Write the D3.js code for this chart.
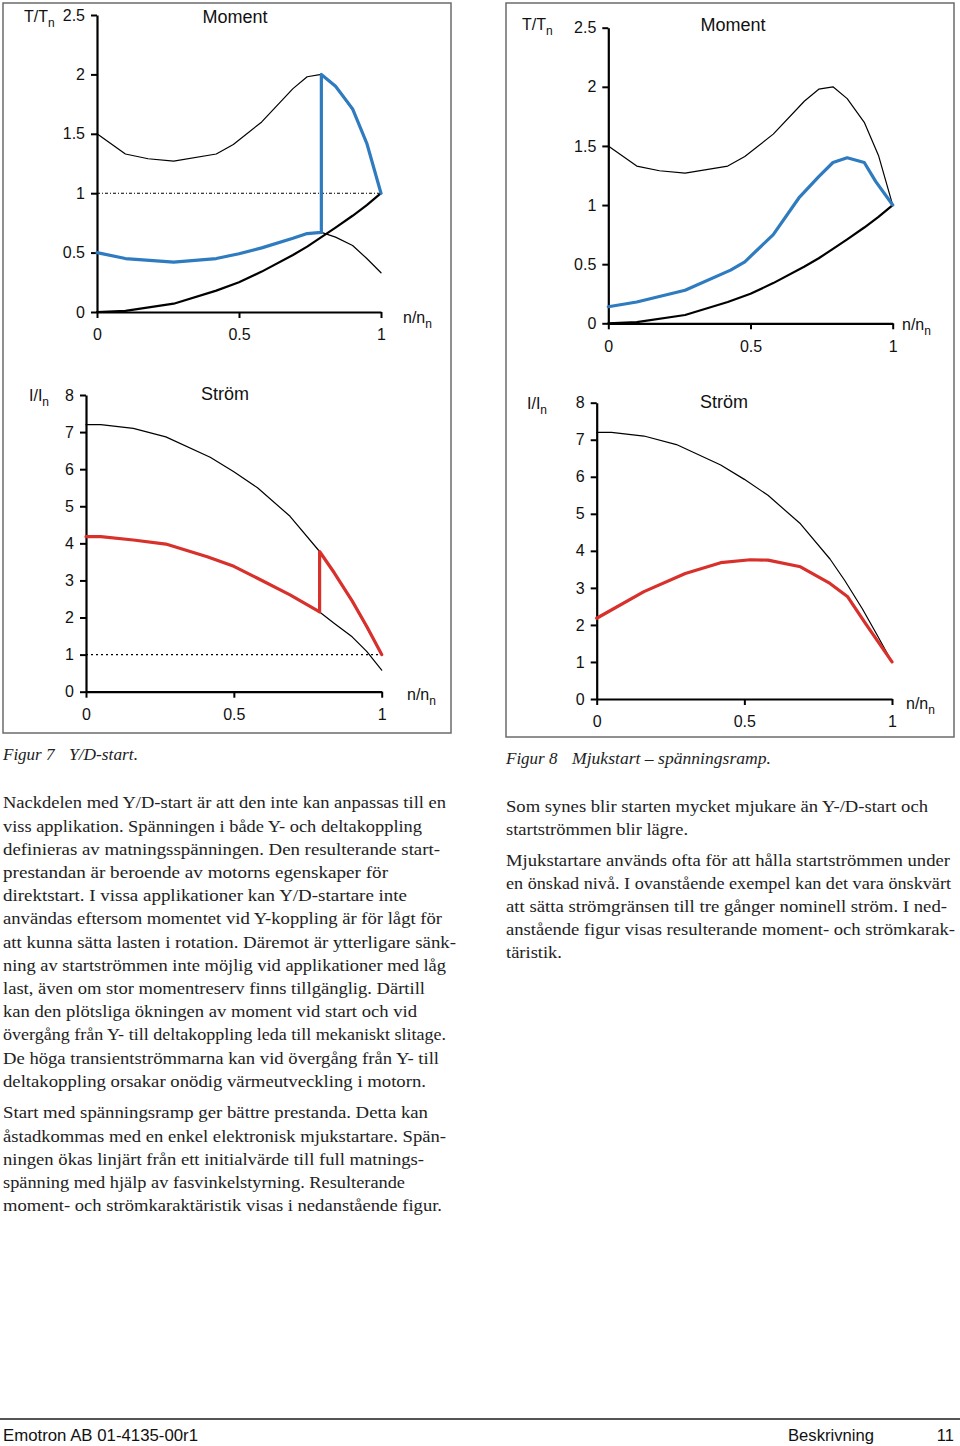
<!DOCTYPE html>
<html><head><meta charset="utf-8">
<script src="https://cdn.jsdelivr.net/npm/d3@7/dist/d3.min.js"></script>
<style>body{margin:0;background:#fff}svg{display:block}</style>
</head><body>
<script>
// ---------- data ----------
const xTicks = [0, 0.5, 1];
const torqueTicks = [0, 0.5, 1, 1.5, 2, 2.5];
const currentTicks = [0, 1, 2, 3, 4, 5, 6, 7, 8];
const nominalLevel = 1;

// torque (T/Tn) vs speed (n/nn)
const dolTorqueSpeed = [0, 0.1, 0.18, 0.27, 0.42, 0.48, 0.58, 0.69, 0.74, 0.79, 0.84, 0.9, 0.95, 1];
const dolTorque      = [1.5, 1.33, 1.29, 1.27, 1.33, 1.41, 1.6, 1.88, 1.98, 2.0, 1.9, 1.7, 1.42, 1.0];
const loadSpeed  = [0, 0.1, 0.27, 0.42, 0.5, 0.58, 0.69, 0.74, 0.79, 0.84, 0.9, 0.95, 1];
const loadTorque = [0, 0.01, 0.07, 0.18, 0.25, 0.34, 0.48, 0.55, 0.63, 0.71, 0.81, 0.9, 1.0];
const ydTorqueSpeed = [0, 0.1, 0.27, 0.42, 0.5, 0.58, 0.69, 0.74, 0.79, 0.79, 0.84, 0.9, 0.95, 1];
const ydTorque      = [0.5, 0.45, 0.42, 0.45, 0.49, 0.54, 0.62, 0.66, 0.67, 2.0, 1.9, 1.71, 1.42, 1.0];
const yTorqueTailSpeed = [0.79, 0.84, 0.9, 0.95, 1];
const yTorqueTail      = [0.67, 0.63, 0.56, 0.45, 0.33];
const softTorqueSpeed = [0, 0.1, 0.27, 0.43, 0.48, 0.58, 0.67, 0.74, 0.79, 0.84, 0.9, 0.94, 1];
const softTorque      = [0.14, 0.18, 0.28, 0.45, 0.52, 0.75, 1.06, 1.24, 1.36, 1.40, 1.36, 1.20, 1.0];

// current (I/In) vs speed (n/nn)
const dolCurrentSpeed = [0, 0.05, 0.16, 0.27, 0.42, 0.5, 0.58, 0.69, 0.79, 0.84, 0.9, 0.95, 1];
const dolCurrent      = [7.2, 7.2, 7.1, 6.87, 6.32, 5.93, 5.5, 4.73, 3.78, 3.2, 2.43, 1.72, 1.0];
const ydCurrentSpeed = [0, 0.05, 0.16, 0.27, 0.41, 0.5, 0.58, 0.69, 0.79, 0.79, 0.84, 0.9, 0.95, 1];
const ydCurrent      = [4.18, 4.18, 4.09, 3.98, 3.64, 3.38, 3.06, 2.61, 2.15, 3.78, 3.2, 2.45, 1.75, 1.0];
const yCurrentTailSpeed = [0.79, 0.84, 0.9, 0.95, 1];
const yCurrentTail      = [2.15, 1.84, 1.48, 1.08, 0.58];
const softCurrentSpeed = [0, 0.16, 0.3, 0.42, 0.52, 0.58, 0.69, 0.79, 0.85, 0.91, 1];
const softCurrent      = [2.18, 2.9, 3.39, 3.68, 3.76, 3.75, 3.57, 3.12, 2.76, 2.04, 1.0];

// texts
const caption7 = ["Figur 7", "Y/D-start."];
const caption8 = ["Figur 8", "Mjukstart – spänningsramp."];
const leftPara1 = [
  "Nackdelen med Y/D-start är att den inte kan anpassas till en",
  "viss applikation. Spänningen i både Y- och deltakoppling",
  "definieras av matningsspänningen. Den resulterande start-",
  "prestandan är beroende av motorns egenskaper för",
  "direktstart. I vissa applikationer kan Y/D-startare inte",
  "användas eftersom momentet vid Y-koppling är för lågt för",
  "att kunna sätta lasten i rotation. Däremot är ytterligare sänk-",
  "ning av startströmmen inte möjlig vid applikationer med låg",
  "last, även om stor momentreserv finns tillgänglig. Därtill",
  "kan den plötsliga ökningen av moment vid start och vid",
  "övergång från Y- till deltakoppling leda till mekaniskt slitage.",
  "De höga transientströmmarna kan vid övergång från Y- till",
  "deltakoppling orsakar onödig värmeutveckling i motorn."
];
const leftPara2 = [
  "Start med spänningsramp ger bättre prestanda. Detta kan",
  "åstadkommas med en enkel elektronisk mjukstartare. Spän-",
  "ningen ökas linjärt från ett initialvärde till full matnings-",
  "spänning med hjälp av fasvinkelstyrning. Resulterande",
  "moment- och strömkaraktäristik visas i nedanstående figur."
];
const rightPara1 = [
  "Som synes blir starten mycket mjukare än Y-/D-start och",
  "startströmmen blir lägre."
];
const rightPara2 = [
  "Mjukstartare används ofta för att hålla startströmmen under",
  "en önskad nivå. I ovanstående exempel kan det vara önskvärt",
  "att sätta strömgränsen till tre gånger nominell ström. I ned-",
  "anstående figur visas resulterande moment- och strömkarak-",
  "täristik."
];
const footerLeft = "Emotron AB 01-4135-00r1";
const footerSection = "Beskrivning";
const footerPage = "11";

// ---------- layout ----------
const W = 960, H = 1446;
const BLUE = "#2f7bbf", RED = "#d8302b";
const SANS = "'Liberation Sans', Arial, sans-serif";
const SERIF = "'Liberation Serif', 'DejaVu Serif', serif";

const svg = d3.select("body").append("svg").attr("width", W).attr("height", H);

// frames
svg.append("rect").attr("x", 3).attr("y", 3).attr("width", 448).attr("height", 730)
  .attr("fill", "none").attr("stroke", "#6b6b6b").attr("stroke-width", 1.5);
svg.append("rect").attr("x", 506).attr("y", 3).attr("width", 448).attr("height", 734)
  .attr("fill", "none").attr("stroke", "#6b6b6b").attr("stroke-width", 1.5);

function zip(xs, ys) { return xs.map((v, i) => [v, ys[i]]); }

function chart(o) {
  const g = svg.append("g");
  const x = d3.scaleLinear().domain([0, 1]).range([o.x0, o.x1]);
  const y = d3.scaleLinear().domain([0, o.ymax]).range([o.y0, o.yTop]);
  const fmt = d => String(d);

  const ax = g.append("g").attr("transform", `translate(0,${o.y0})`)
    .call(d3.axisBottom(x).tickValues(xTicks).tickFormat(fmt).tickSize(6).tickSizeOuter(0).tickPadding(11));
  const ay = g.append("g").attr("transform", `translate(${o.x0},0)`)
    .call(d3.axisLeft(y).tickValues(o.ticks).tickFormat(fmt).tickSize(6).tickSizeOuter(0).tickPadding(6));
  [ax, ay].forEach(a => {
    a.select(".domain").attr("stroke", "#000").attr("stroke-width", 2.2);
    a.selectAll(".tick line").attr("stroke", "#000").attr("stroke-width", 2);
    a.selectAll(".tick text").attr("font-family", SANS).attr("font-size", 16).attr("fill", "#111");
  });

  const line = d3.line().x(d => x(d[0])).y(d => y(d[1]));
  if (o.ref) {
    g.append("path").attr("d", line([[0, nominalLevel], [1, nominalLevel]]))
      .attr("fill", "none").attr("stroke", "#000").attr("stroke-width", 1.1)
      .attr("stroke-dasharray", o.refDash);
  }
  o.series.forEach(s => {
    g.append("path").attr("d", line(zip(s.xs, s.ys)))
      .attr("fill", "none").attr("stroke", s.color).attr("stroke-width", s.w)
      .attr("stroke-linejoin", "round").attr("stroke-linecap", "round");
  });

  // labels
  g.append("text").attr("x", o.title[0]).attr("y", o.title[1]).attr("text-anchor", "middle")
    .attr("font-family", SANS).attr("font-size", 18).attr("fill", "#111").text(o.titleText);
  const yl = g.append("text").attr("x", o.ylab[0]).attr("y", o.ylab[1])
    .attr("font-family", SANS).attr("font-size", 16).attr("fill", "#111");
  yl.append("tspan").text(o.ylabText);
  yl.append("tspan").attr("dy", 5).attr("font-size", 12).text("n");
  const xl = g.append("text").attr("x", o.xlab[0]).attr("y", o.xlab[1])
    .attr("font-family", SANS).attr("font-size", 16).attr("fill", "#111");
  xl.append("tspan").text("n/n");
  xl.append("tspan").attr("dy", 5).attr("font-size", 12).text("n");
}

// Figur 7 – torque
chart({
  x0: 97, x1: 381, y0: 312, yTop: 15, ymax: 2.5, ticks: torqueTicks,
  ref: true, refDash: "3,2,1,2",
  titleText: "Moment", title: [235, 23], ylabText: "T/T", ylab: [24, 22], xlab: [403, 323],
  series: [
    { xs: dolTorqueSpeed, ys: dolTorque, color: "#000", w: 1.2 },
    { xs: yTorqueTailSpeed, ys: yTorqueTail, color: "#000", w: 1.2 },
    { xs: loadSpeed, ys: loadTorque, color: "#000", w: 2.2 },
    { xs: ydTorqueSpeed, ys: ydTorque, color: BLUE, w: 3.2 }
  ]
});
// Figur 8 – torque
chart({
  x0: 608.3, x1: 892.7, y0: 323.3, yTop: 27.7, ymax: 2.5, ticks: torqueTicks,
  ref: false,
  titleText: "Moment", title: [733, 31], ylabText: "T/T", ylab: [522, 30], xlab: [902, 330],
  series: [
    { xs: dolTorqueSpeed, ys: dolTorque, color: "#000", w: 1.2 },
    { xs: loadSpeed, ys: loadTorque, color: "#000", w: 2.2 },
    { xs: softTorqueSpeed, ys: softTorque, color: BLUE, w: 3.2 }
  ]
});
// Figur 7 – current
chart({
  x0: 86, x1: 381.7, y0: 691.7, yTop: 395, ymax: 8, ticks: currentTicks,
  ref: true, refDash: "2,3",
  titleText: "Ström", title: [225, 400], ylabText: "I/I", ylab: [29, 401], xlab: [407, 700],
  series: [
    { xs: dolCurrentSpeed, ys: dolCurrent, color: "#000", w: 1.2 },
    { xs: yCurrentTailSpeed, ys: yCurrentTail, color: "#000", w: 1.2 },
    { xs: ydCurrentSpeed, ys: ydCurrent, color: RED, w: 3.2 }
  ]
});
// Figur 8 – current
chart({
  x0: 596.7, x1: 892, y0: 699, yTop: 402.7, ymax: 8, ticks: currentTicks,
  ref: false,
  titleText: "Ström", title: [724, 408], ylabText: "I/I", ylab: [527, 409], xlab: [906, 709],
  series: [
    { xs: dolCurrentSpeed, ys: dolCurrent, color: "#000", w: 1.2 },
    { xs: softCurrentSpeed, ys: softCurrent, color: RED, w: 3.2 }
  ]
});

// ---------- captions ----------
function caption(parts, x1, x2, y, end) {
  svg.append("text").attr("x", x1).attr("y", y).attr("font-family", SERIF).attr("font-style", "italic")
    .attr("font-size", 17).attr("fill", "#222").text(parts[0]);
  svg.append("text").attr("x", x2).attr("y", y).attr("font-family", SERIF).attr("font-style", "italic")
    .attr("font-size", 17).attr("fill", "#222").attr("textLength", end - x2)
    .attr("lengthAdjust", "spacingAndGlyphs").text(parts[1]);
}
caption(caption7, 3, 69, 760, 138);
caption(caption8, 506, 572, 764, 771);

// ---------- body text ----------
function para(lines, x, y0, step, ends) {
  lines.forEach((s, i) => {
    svg.append("text").attr("x", x).attr("y", y0 + i * step)
      .attr("font-family", SERIF).attr("font-size", 17.5).attr("fill", "#222")
      .attr("textLength", ends[i] - x).attr("lengthAdjust", "spacingAndGlyphs").text(s);
  });
}
para(leftPara1, 3, 808.3, 23.2, [446, 422, 440, 388, 407, 442, 456, 446, 425, 417, 446, 439, 426]);
para(leftPara2, 3, 1118.3, 23.2, [428, 446, 424, 405, 442]);
para(rightPara1, 506, 811.7, 23.1, [928, 688]);
para(rightPara2, 506, 865.5, 23.1, [950, 951, 947, 955, 562]);

// ---------- footer ----------
svg.append("line").attr("x1", 0).attr("x2", W).attr("y1", 1419).attr("y2", 1419)
  .attr("stroke", "#555").attr("stroke-width", 2);
svg.append("text").attr("x", 3).attr("y", 1441).attr("font-family", SANS).attr("font-size", 16.5)
  .attr("fill", "#111").attr("textLength", 195).attr("lengthAdjust", "spacingAndGlyphs").text(footerLeft);
svg.append("text").attr("x", 788).attr("y", 1441).attr("font-family", SANS).attr("font-size", 16.5)
  .attr("fill", "#111").attr("textLength", 86).attr("lengthAdjust", "spacingAndGlyphs").text(footerSection);
svg.append("text").attr("x", 954).attr("y", 1441).attr("text-anchor", "end").attr("font-family", SANS)
  .attr("font-size", 16.5).attr("fill", "#111").text(footerPage);
</script>
</body></html>
